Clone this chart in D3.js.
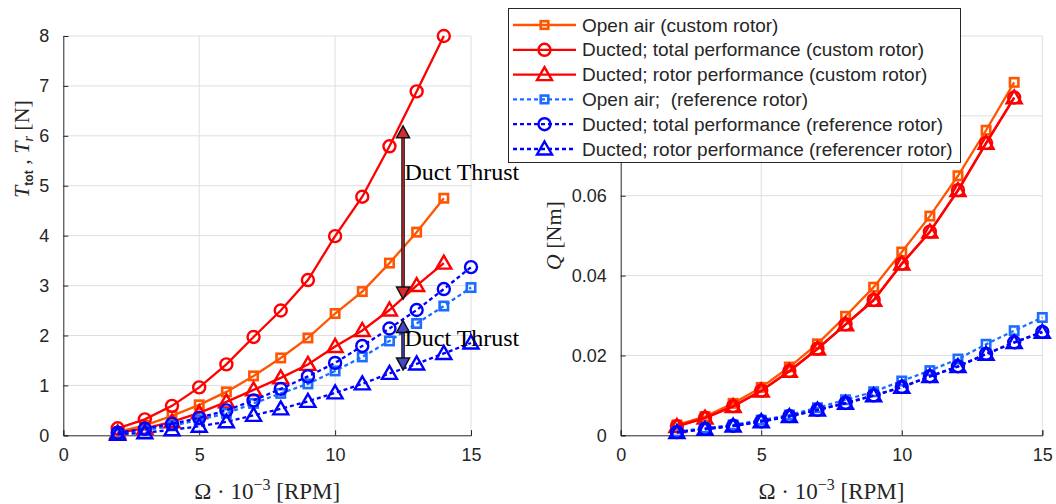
<!DOCTYPE html>
<html><head><meta charset="utf-8">
<script src="https://cdn.jsdelivr.net/npm/d3@7"></script>
<style>
html,body{margin:0;padding:0;background:#fff;}
svg{display:block;}
</style></head>
<body>
<svg id="chart" width="1056" height="504"></svg>
<script>
// ---------------- DATA ----------------
const rpmCustom = [2,3,4,5,6,7,8,9,10,11,12,13,14];
const rpmRef = [2,3,4,5,6,7,8,9,10,11,12,13,14,15];

const thrustOpenCustom   = [0.07,0.20,0.39,0.61,0.87,1.19,1.55,1.95,2.44,2.88,3.45,4.07,4.75];
const thrustDuctTotCustom= [0.14,0.32,0.59,0.96,1.42,1.97,2.50,3.11,3.99,4.78,5.79,6.89,8.00];
const thrustDuctRotCustom= [0.05,0.14,0.27,0.45,0.67,0.91,1.15,1.42,1.78,2.10,2.51,3.00,3.45];
const thrustOpenRef      = [0.03,0.10,0.19,0.31,0.44,0.64,0.84,1.03,1.29,1.57,1.89,2.24,2.59,2.96];
const thrustDuctTotRef   = [0.05,0.13,0.23,0.35,0.50,0.70,0.93,1.18,1.45,1.79,2.14,2.51,2.93,3.37];
const thrustDuctRotRef   = [0.02,0.05,0.11,0.18,0.27,0.40,0.53,0.68,0.85,1.03,1.24,1.43,1.64,1.85];

const torqueOpenCustom   = [0.0026,0.0047,0.0080,0.0120,0.0171,0.0229,0.0298,0.0371,0.0459,0.0549,0.0650,0.0764,0.0884];
const torqueDuctTotCustom= [0.0023,0.0044,0.0073,0.0112,0.0161,0.0217,0.0278,0.0339,0.0430,0.0510,0.0614,0.0732,0.0846];
const torqueDuctRotCustom= [0.0022,0.0043,0.0072,0.0111,0.0160,0.0216,0.0277,0.0338,0.0429,0.0509,0.0613,0.0731,0.0845];
const torqueOpenRef      = [0.0009,0.0018,0.0026,0.0038,0.0051,0.0069,0.0089,0.0109,0.0136,0.0162,0.0191,0.0228,0.0262,0.0295];
const torqueDuctTotRef   = [0.0008,0.0016,0.0024,0.0035,0.0048,0.0064,0.0081,0.0100,0.0121,0.0148,0.0173,0.0204,0.0233,0.0259];
const torqueDuctRotRef   = [0.0007,0.0015,0.0023,0.0034,0.0047,0.0063,0.0080,0.0099,0.0120,0.0147,0.0172,0.0203,0.0232,0.0258];

const legendLabels = [
  "Open air (custom rotor)",
  "Ducted; total performance (custom rotor)",
  "Ducted; rotor performance (custom rotor)",
  "Open air;  (reference rotor)",
  "Ducted; total performance (reference rotor)",
  "Ducted; rotor performance (referencer rotor)"
];
const xTicks = [0,5,10,15];
const yTicksThrust = [0,1,2,3,4,5,6,7,8];
const yTicksTorque = [0,0.02,0.04,0.06,0.08,0.1];
const yTickLabelsTorque = ["0","0.02","0.04","0.06","",""]; // 0.08 and 0.1 sit under the legend

// duct thrust annotation: [x, yTop, yBottom]
const ductArrowCustom = [12.5, 6.20, 2.73];
const ductArrowRef    = [12.5, 2.30, 1.31];
const ductTextCustom  = [12.55, 5.28];
const ductTextRef     = [12.55, 1.96];

// ---------------- STYLES ----------------
const ORANGE = "#ff5500", RED = "#ff0000", LBLUE = "#1a6dff", BLUE = "#0000ff";
const styles = [
  {color:ORANGE, marker:"square", dash:null},
  {color:RED, marker:"circle", dash:null},
  {color:RED, marker:"triangle", dash:null},
  {color:LBLUE, marker:"square", dash:"4,3"},
  {color:BLUE, marker:"circle", dash:"4,3"},
  {color:BLUE, marker:"triangle", dash:"4,3"}
];
const AX = "#262626", GRID = "#dfdfdf";
const SANS = "'Liberation Sans', Arial, sans-serif";
const SERIF = "'Liberation Serif', 'Times New Roman', serif";

const svg = d3.select("#chart");

function drawMarker(g, type, x, y, color, small) {
  if (type === "square") {
    const h = small ? 3.8 : 4.2;
    g.append("rect").attr("x", x-h).attr("y", y-h).attr("width", 2*h).attr("height", 2*h)
      .attr("fill","none").attr("stroke",color).attr("stroke-width",2.6);
  } else if (type === "circle") {
    g.append("circle").attr("cx",x).attr("cy",y).attr("r",6)
      .attr("fill","none").attr("stroke",color).attr("stroke-width",2.4);
  } else {
    g.append("path").attr("d",`M${x},${y-7.5}L${x+7.5},${y+5.5}L${x-7.5},${y+5.5}Z`)
      .attr("fill","none").attr("stroke",color).attr("stroke-width",2.4).attr("stroke-linejoin","miter");
  }
}

function drawPanel(opts) {
  const {x, y, yTicks, yFmt, series} = opts;
  const g = svg.append("g");
  // grid
  g.append("g").selectAll("line").data(xTicks.slice(1)).join("line")
    .attr("x1", d=>x(d)).attr("x2", d=>x(d)).attr("y1", y.range()[0]).attr("y2", y.range()[1])
    .attr("stroke", GRID).attr("stroke-width",1);
  g.append("g").selectAll("line").data(yTicks.slice(1)).join("line")
    .attr("x1", x.range()[0]).attr("x2", x.range()[1]).attr("y1", d=>y(d)).attr("y2", d=>y(d))
    .attr("stroke", GRID).attr("stroke-width",1);
  // axes
  const ax = g.append("g").attr("transform",`translate(0,${y.range()[0]})`)
    .call(d3.axisBottom(x).tickValues(xTicks).tickSize(-5).tickPadding(13).tickFormat(d3.format("d")));
  const ay = g.append("g").attr("transform",`translate(${x.range()[0]},0)`)
    .call(d3.axisLeft(y).tickValues(yTicks).tickSize(-5).tickPadding(14).tickFormat(yFmt));
  [ax, ay].forEach(a => {
    a.select(".domain").attr("stroke",AX).attr("stroke-width",1);
    a.selectAll(".tick line").attr("stroke",AX);
    a.selectAll("text").attr("fill",AX).style("font-family",SANS).style("font-size","18px");
  });
  // series
  series.forEach((s, i) => {
    const st = styles[i];
    const line = d3.line().x((d,j)=>x(s.xs[j])).y(d=>y(d));
    g.append("path").datum(s.ys).attr("d", line).attr("fill","none")
      .attr("stroke", st.color).attr("stroke-width",2.3)
      .attr("stroke-dasharray", st.dash);
    const mg = g.append("g");
    s.ys.forEach((v,j)=> drawMarker(mg, st.marker, x(s.xs[j]), y(v), st.color));
  });
  return g;
}

// ---------------- LEFT PANEL ----------------
const xL = d3.scaleLinear().domain([0,15]).range([63.3,471]);
const yL = d3.scaleLinear().domain([0,8]).range([435.3,36]);
drawPanel({x:xL, y:yL, yTicks:yTicksThrust, yFmt:d3.format("d"), series:[
  {xs:rpmCustom, ys:thrustOpenCustom},
  {xs:rpmCustom, ys:thrustDuctTotCustom},
  {xs:rpmCustom, ys:thrustDuctRotCustom},
  {xs:rpmRef, ys:thrustOpenRef},
  {xs:rpmRef, ys:thrustDuctTotRef},
  {xs:rpmRef, ys:thrustDuctRotRef}
]});

// ---------------- RIGHT PANEL ----------------
const xR = d3.scaleLinear().domain([0,15]).range([620.7,1042.3]);
const yR = d3.scaleLinear().domain([0,0.1]).range([435.3,36]);
drawPanel({x:xR, y:yR, yTicks:yTicksTorque, yFmt:(d,i)=> yTickLabelsTorque[i], series:[
  {xs:rpmCustom, ys:torqueOpenCustom},
  {xs:rpmCustom, ys:torqueDuctTotCustom},
  {xs:rpmCustom, ys:torqueDuctRotCustom},
  {xs:rpmRef, ys:torqueOpenRef},
  {xs:rpmRef, ys:torqueDuctTotRef},
  {xs:rpmRef, ys:torqueDuctRotRef}
]});

// ---------------- ARROWS ----------------
function doubleArrow(arr, fillColor) {
  const px = xL(arr[0]), yt = yL(arr[1]), yb = yL(arr[2]);
  const hl = 12, hw = 6.5;
  const g = svg.append("g");
  g.append("line").attr("x1",px).attr("x2",px).attr("y1",yt+hl).attr("y2",yb-hl)
    .attr("stroke","#111").attr("stroke-width",3.6);
  g.append("line").attr("x1",px).attr("x2",px).attr("y1",yt+hl).attr("y2",yb-hl)
    .attr("stroke",fillColor).attr("stroke-width",1.4);
  g.append("path").attr("d",`M${px},${yt}L${px+hw},${yt+hl}L${px-hw},${yt+hl}Z`)
    .attr("fill",fillColor).attr("stroke","#111").attr("stroke-width",1.5);
  g.append("path").attr("d",`M${px},${yb}L${px+hw},${yb-hl}L${px-hw},${yb-hl}Z`)
    .attr("fill",fillColor).attr("stroke","#111").attr("stroke-width",1.5);
}
doubleArrow(ductArrowCustom, "#d92a2f");
doubleArrow(ductArrowRef, "#4646c8");
[ductTextCustom, ductTextRef].forEach(t => {
  svg.append("text").attr("x", xL(t[0])).attr("y", yL(t[1]))
    .attr("dy","0.35em").style("font-family",SERIF).style("font-size","24px").attr("fill","#000")
    .text("Duct Thrust");
});

// ---------------- AXIS LABELS ----------------
function xLabel(cx) {
  const t = svg.append("text").attr("x",cx).attr("y",491).attr("dy","0.35em")
    .attr("text-anchor","middle").style("font-family",SERIF).style("font-size","23px").attr("fill",AX);
  t.append("tspan").text("Ω · 10");
  t.append("tspan").attr("dy","-9").style("font-size","16px").text("−3");
  t.append("tspan").attr("dy","9").text(" [RPM]");
}
xLabel((xL.range()[0]+xL.range()[1])/2);
xLabel((xR.range()[0]+xR.range()[1])/2);

const yl = svg.append("text").attr("transform","translate(21,149) rotate(-90)")
  .attr("text-anchor","middle").attr("dy","0.35em").style("font-family",SERIF).style("font-size","22px").attr("fill",AX);
yl.append("tspan").style("font-style","italic").text("T");
yl.append("tspan").attr("dy","4").style("font-size","12px").style("font-family",SANS).style("font-weight","bold").text("tot");
yl.append("tspan").attr("dy","-4").text(" , ");
yl.append("tspan").style("font-style","italic").text("T");
yl.append("tspan").attr("dy","4").style("font-size","14px").style("font-style","italic").text("r");
yl.append("tspan").attr("dy","-4").text(" [N]");

const yr = svg.append("text").attr("transform",`translate(553,${(yR.range()[0]+yR.range()[1])/2}) rotate(-90)`)
  .attr("text-anchor","middle").attr("dy","0.35em").style("font-family",SERIF).style("font-size","22px").attr("fill",AX);
yr.append("tspan").style("font-style","italic").text("Q");
yr.append("tspan").text(" [Nm]");

// ---------------- LEGEND ----------------
const lg = svg.append("g");
lg.append("rect").attr("x",508.5).attr("y",8.5).attr("width",452).attr("height",154)
  .attr("fill","#fff").attr("stroke",AX).attr("stroke-width",1);
legendLabels.forEach((lab,i) => {
  const cy = 25 + i*24.8;
  const st = styles[i];
  lg.append("line").attr("x1",513).attr("x2",576).attr("y1",cy).attr("y2",cy)
    .attr("stroke",st.color).attr("stroke-width",2.3).attr("stroke-dasharray",st.dash);
  drawMarker(lg, st.marker, 544.5, cy, st.color, true);
  lg.append("text").attr("x",582).attr("y",cy).attr("dy","0.35em")
    .style("font-family",SANS).style("font-size","19px").style("white-space","pre")
    .attr("fill",AX).text(lab);
});
</script>
</body></html>
